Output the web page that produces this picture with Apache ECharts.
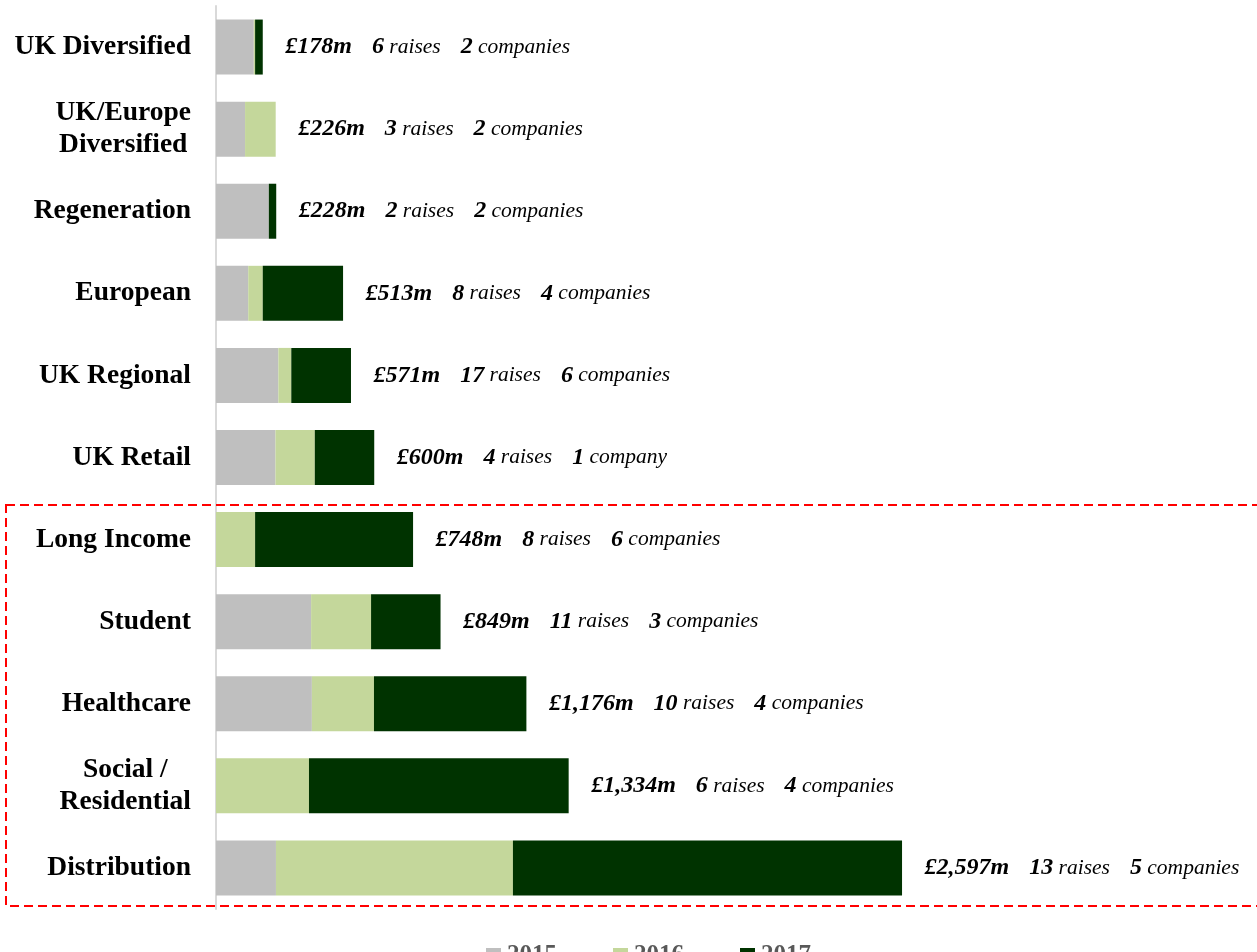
<!DOCTYPE html>
<html>
<head>
<meta charset="utf-8">
<script src="https://cdn.jsdelivr.net/npm/echarts@6/dist/echarts.min.js"></script>
<style>
  html, body { margin: 0; padding: 0; background: #ffffff; }
  #chart { width: 1257px; height: 952px; }
</style>
</head>
<body>
<div id="chart"></div>
<script>
// ---- Data ----
const categories = ['UK Diversified', 'UK/Europe\nDiversified', 'Regeneration', 'European', 'UK Regional', 'UK Retail',
  'Long Income', 'Student', 'Healthcare', 'Social /\nResidential', 'Distribution'];
const seriesNames = ['2015', '2016', '2017'];
const v2015 = [143, 110, 200, 122, 236, 225, 0, 360, 363, 0, 227];
const v2016 = [5, 116, 0, 55, 49, 149, 148, 227, 235, 352, 897];
const v2017 = [29, 0, 28, 304, 226, 225, 598, 263, 577, 983, 1473];
const amountLabels = ['£178m', '£226m', '£228m', '£513m', '£571m', '£600m', '£748m', '£849m', '£1,176m', '£1,334m', '£2,597m'];
const raises = [6, 3, 2, 8, 17, 4, 8, 11, 10, 6, 13];
const companies = [2, 2, 2, 4, 6, 1, 6, 3, 4, 4, 5];

const colors = ['#bfbfbf', '#c4d79b', '#003300'];
const serif = '"Liberation Serif", "DejaVu Serif", serif';

const totals = categories.map((c, i) => v2015[i] + v2016[i] + v2017[i]);

const chart = echarts.init(document.getElementById('chart'), null, { renderer: 'canvas' });

function barSeries(name, data, color) {
  return {
    name: name, type: 'bar', stack: 'total', data: data, barWidth: 55,
    itemStyle: { color: color }, emphasis: { disabled: true }
  };
}

const option = {
  animation: false,
  backgroundColor: '#ffffff',
  grid: { left: 216, top: 6, bottom: 43, right: 248.5, containLabel: false },
  xAxis: {
    type: 'value', min: 0, max: 3000, show: false,
    splitLine: { show: false }
  },
  yAxis: {
    type: 'category', data: categories, inverse: true,
    axisLine: { show: true, lineStyle: { color: '#d9d9d9', width: 2 } },
    axisTick: { show: false },
    axisLabel: {
      margin: 25,
      formatter: function (v) {
        if (v.indexOf('\n') >= 0) {
          return v.split('\n').map(s => '{c|' + s + '}').join('\n');
        }
        return '{r|' + v + '}';
      },
      rich: {
        r: { fontFamily: serif, fontWeight: 'bold', fontSize: 27.5, color: '#000000' },
        c: { fontFamily: serif, fontWeight: 'bold', fontSize: 27.5, color: '#000000', align: 'center', lineHeight: 32 }
      }
    }
  },
  legend: {
    data: seriesNames,
    left: 481, top: 938,
    itemWidth: 15, itemHeight: 15, itemGap: 56,
    icon: 'rect',
    textStyle: { fontFamily: serif, fontWeight: 'bold', fontSize: 25, color: '#595959', padding: [0, 0, 0, 1] }
  },
  series: [
    barSeries(seriesNames[0], v2015, colors[0]),
    barSeries(seriesNames[1], v2016, colors[1]),
    barSeries(seriesNames[2], v2017, colors[2]),
    {
      name: 'labels', type: 'scatter', symbolSize: 1,
      itemStyle: { color: 'rgba(0,0,0,0)', opacity: 1 },
      data: totals.map((t, i) => [t, i]),
      silent: true,
      label: {
        show: true, position: 'right', distance: 22, opacity: 1,
        formatter: function (p) {
          const i = p.dataIndex;
          const comp = companies[i] === 1 ? ' company' : ' companies';
          return '{b|' + amountLabels[i] + '}{g| }{b|' + raises[i] + '}{i| raises}{g| }{b|' + companies[i] + '}{i|' + comp + '}';
        },
        rich: {
          b: { fontFamily: serif, fontStyle: 'italic', fontWeight: 'bold', fontSize: 24, color: '#000000' },
          i: { fontFamily: serif, fontStyle: 'italic', fontSize: 21.5, color: '#000000' },
          g: { width: 20, fontSize: 21 }
        }
      }
    }
  ],
  graphic: [
    {
      type: 'rect', silent: true,
      shape: { x: 6, y: 505, width: 1262, height: 401 },
      style: { fill: 'none', stroke: '#ff0000', lineWidth: 2, lineDash: [9, 5] },
      z: 10
    }
  ]
};

chart.setOption(option);
</script>
</body>
</html>
